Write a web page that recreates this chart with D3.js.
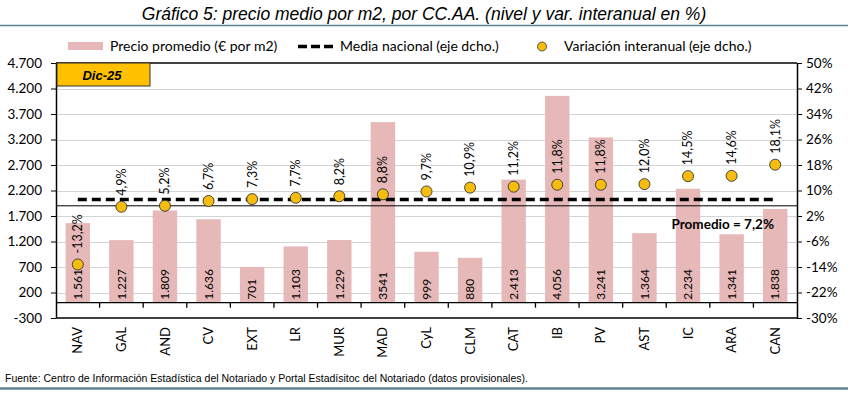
<!DOCTYPE html>
<html>
<head>
<meta charset="utf-8">
<script src="https://cdn.jsdelivr.net/npm/d3@7"></script>
<style>
  body { margin: 0; background: #fff; }
  svg { display: block; }
  .axis path, .axis line { stroke: #000; }
  .axis text { font-family: Lato, sans-serif; font-size: 13.5px; fill: #000; }
</style>
</head>
<body>
<div class="root"></div>
<script>
const regions = ['NAV', 'GAL', 'AND', 'CV', 'EXT', 'LR', 'MUR', 'MAD', 'CyL', 'CLM', 'CAT', 'IB', 'PV', 'AST', 'IC', 'ARA', 'CAN'];
const precio = [1561, 1227, 1809, 1636, 701, 1103, 1229, 3541, 999, 880, 2413, 4056, 3241, 1364, 2234, 1341, 1838];
const precioLabels = ['1.561', '1.227', '1.809', '1.636', '701', '1.103', '1.229', '3541', '999', '880', '2.413', '4.056', '3.241', '1.364', '2.234', '1.341', '1.838'];
const variacion = [-13.2, 4.9, 5.2, 6.7, 7.3, 7.7, 8.2, 8.8, 9.7, 10.9, 11.2, 11.8, 11.8, 12.0, 14.5, 14.6, 18.1];
const mediaNacional = 7.2;
const leftTicks = [-300, 200, 700, 1200, 1700, 2200, 2700, 3200, 3700, 4200, 4700];
const rightTicks = [-30, -22, -14, -6, 2, 10, 18, 26, 34, 42, 50];
const crossLine = 1900;

const svgWidth = 850;
const svgHeight = 393;

const svg = d3.select('.root')
  .append('svg')
  .attr('width', svgWidth)
  .attr('height', svgHeight);

const locale = d3.formatLocale({decimal: ',', thousands: '.', grouping: [3], currency: ['', '€'], minus: '-'});
const fmtInt = locale.format(',d');
const fmtPct = locale.format('.1f');

const plot = {left: 56, right: 797, top: 63, bottom: 318};

const x = d3.scaleBand()
  .domain(regions)
  .range([plot.left, plot.right])
  .paddingInner(0.44)
  .paddingOuter(0.22);
const y = d3.scaleLinear().domain([-300, 4700]).range([plot.bottom, plot.top]);
const y2 = d3.scaleLinear().domain([-30, 50]).range([plot.bottom, plot.top]);
const cx = d => x(d) + x.bandwidth() / 2;

// title + rules
svg.append('text')
  .attr('x', 424).attr('y', 20)
  .attr('text-anchor', 'middle')
  .style('font-family', 'Liberation Sans, Arial, sans-serif')
  .style('font-style', 'italic')
  .style('font-size', '17.5px')
  .text('Gráfico 5: precio medio por m2, por CC.AA. (nivel y var. interanual en %)');

svg.append('line')
  .attr('x1', 0).attr('x2', 848).attr('y1', 25.5).attr('y2', 25.5)
  .attr('stroke', '#5f8294').attr('stroke-width', 1.5);

svg.append('line')
  .attr('x1', 0).attr('x2', 848).attr('y1', 388.5).attr('y2', 388.5)
  .attr('stroke', '#5f8294').attr('stroke-width', 2.5);

svg.append('text')
  .attr('x', 5).attr('y', 382)
  .style('font-family', 'Liberation Sans, Arial, sans-serif')
  .style('font-size', '10.5px')
  .text('Fuente: Centro de Información Estadística del Notariado y Portal Estadísitoc del Notariado (datos provisionales).');

// legend
const legend = svg.append('g').style('font-family', 'Lato, sans-serif').style('font-size', '14px');
legend.append('rect').attr('x', 68).attr('y', 42).attr('width', 35).attr('height', 8).attr('fill', '#e6b9b8');
legend.append('text').attr('x', 110).attr('y', 51).text('Precio promedio (€ por m2)');
legend.append('line').attr('x1', 298).attr('x2', 333).attr('y1', 46.5).attr('y2', 46.5)
  .attr('stroke', '#000').attr('stroke-width', 3.5).attr('stroke-dasharray', '9,4');
legend.append('text').attr('x', 340).attr('y', 51).text('Media nacional (eje dcho.)');
legend.append('circle').attr('cx', 542).attr('cy', 46.5).attr('r', 4.5)
  .attr('fill', '#f6bd0f').attr('stroke', '#333').attr('stroke-width', 0.8);
legend.append('text').attr('x', 564).attr('y', 51).text('Variación interanual (eje dcho.)');

// gridlines
svg.append('g')
  .selectAll('line')
  .data(leftTicks.slice(1, -1))
  .enter().append('line')
  .attr('x1', plot.left).attr('x2', plot.right)
  .attr('y1', d => Math.round(y(d)) + 0.5).attr('y2', d => Math.round(y(d)) + 0.5)
  .attr('stroke', '#d4d4d4');

// bars
svg.append('g')
  .selectAll('rect')
  .data(precio)
  .enter().append('rect')
  .attr('x', (d, i) => x(regions[i]))
  .attr('width', x.bandwidth())
  .attr('y', d => y(d))
  .attr('height', d => y(0) - y(d))
  .attr('fill', '#e6b9b8');

// bar value labels
svg.append('g')
  .selectAll('text')
  .data(precioLabels)
  .enter().append('text')
  .attr('transform', (d, i) => `translate(${cx(regions[i])},${y(0) - 3}) rotate(-90)`)
  .attr('dy', '0.35em')
  .style('font-family', 'Lato, sans-serif')
  .style('font-size', '12px')
  .text(d => d);

// borders and cross line
svg.append('line')
  .attr('x1', plot.left).attr('x2', plot.right)
  .attr('y1', y(4700)).attr('y2', y(4700))
  .attr('stroke', '#000').attr('stroke-width', 1.3);
svg.append('line')
  .attr('x1', plot.left).attr('x2', plot.right)
  .attr('y1', y(-300)).attr('y2', y(-300))
  .attr('stroke', '#000').attr('stroke-width', 1.3);
svg.append('line')
  .attr('x1', plot.left).attr('x2', plot.right)
  .attr('y1', y(crossLine)).attr('y2', y(crossLine))
  .attr('stroke', '#000').attr('stroke-width', 1);

// x axis at zero with ticks between categories
const xAxis = svg.append('g')
  .attr('class', 'axis')
  .attr('transform', `translate(0,${y(0)})`);
xAxis.append('line')
  .attr('x1', plot.left).attr('x2', plot.right)
  .attr('stroke-width', 1.3);
xAxis.selectAll('.tick')
  .data(regions.slice(1))
  .enter().append('line')
  .attr('x1', d => x(d) - x.step() * x.paddingInner() / 2)
  .attr('x2', d => x(d) - x.step() * x.paddingInner() / 2)
  .attr('y1', 0).attr('y2', 5)
  .attr('stroke-width', 1.3);

svg.append('g')
  .selectAll('text')
  .data(regions)
  .enter().append('text')
  .attr('transform', d => `translate(${cx(d)},${plot.bottom + 9}) rotate(-90)`)
  .attr('text-anchor', 'end')
  .attr('dy', '0.35em')
  .style('font-family', 'Lato, sans-serif')
  .style('font-size', '13px')
  .text(d => d);

// left and right axes
svg.append('g')
  .attr('class', 'axis')
  .attr('transform', `translate(${plot.left},0)`)
  .call(d3.axisLeft(y).tickValues(leftTicks).tickFormat(fmtInt).tickSize(5).tickSizeOuter(0).tickPadding(9))
  .call(g => g.select('.domain').attr('stroke-width', 1.5));

svg.append('g')
  .attr('class', 'axis')
  .attr('transform', `translate(${plot.right},0)`)
  .call(d3.axisRight(y2).tickValues(rightTicks).tickFormat(d => d + '%').tickSize(5).tickSizeOuter(0).tickPadding(4))
  .call(g => g.select('.domain').attr('stroke-width', 1.5));

// Dic-25 box
svg.append('rect')
  .attr('x', plot.left + 1).attr('y', plot.top)
  .attr('width', 93).attr('height', 23)
  .attr('fill', '#ffc000').attr('stroke', '#333').attr('stroke-width', 1);
svg.append('text')
  .attr('x', plot.left + 46).attr('y', plot.top + 16.5)
  .attr('text-anchor', 'middle')
  .style('font-family', 'Liberation Sans, Arial, sans-serif')
  .style('font-size', '13px')
  .style('font-weight', 'bold')
  .style('font-style', 'italic')
  .text('Dic-25');

// media nacional dashed line
const line = d3.line()
  .x(d => cx(d))
  .y(() => y2(mediaNacional));
svg.append('path')
  .attr('d', line([regions[0], regions[regions.length - 1]]))
  .attr('fill', 'none')
  .attr('stroke', '#000')
  .attr('stroke-width', 3.5)
  .attr('stroke-dasharray', '9,5');

svg.append('text')
  .attr('x', 774).attr('y', y2(mediaNacional) + 30)
  .attr('text-anchor', 'end')
  .style('font-family', 'Lato, sans-serif')
  .style('font-size', '13.5px')
  .style('font-weight', 'bold')
  .text('Promedio = ' + fmtPct(mediaNacional) + '%');

// variation dots + labels
svg.append('g')
  .selectAll('circle')
  .data(variacion)
  .enter().append('circle')
  .attr('cx', (d, i) => cx(regions[i]))
  .attr('cy', d => y2(d))
  .attr('r', 5.5)
  .attr('fill', '#f6bd0f')
  .attr('stroke', '#333')
  .attr('stroke-width', 0.9);

svg.append('g')
  .selectAll('text')
  .data(variacion)
  .enter().append('text')
  .attr('transform', (d, i) => `translate(${cx(regions[i])},${y2(d) - 11}) rotate(-90)`)
  .attr('dy', '0.35em')
  .style('font-family', 'Lato, sans-serif')
  .style('font-size', '12.5px')
  .text(d => fmtPct(d) + '%');
</script>
</body>
</html>
